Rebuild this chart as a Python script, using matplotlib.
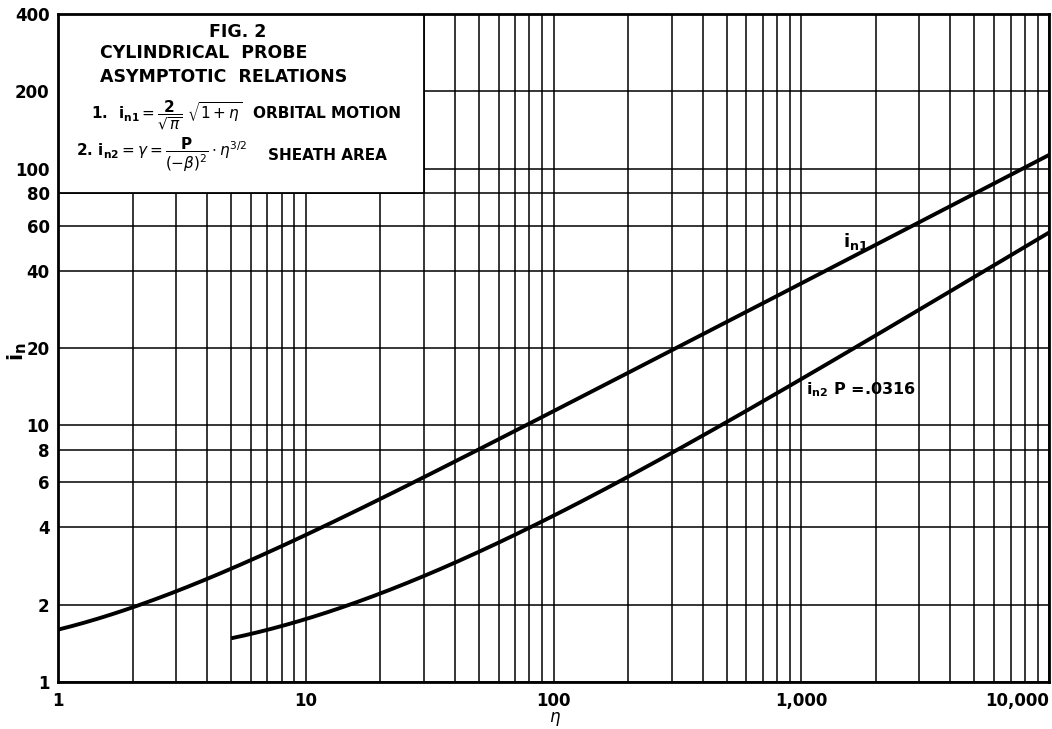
import matplotlib
matplotlib.use("Agg")
import matplotlib.pyplot as plt
import numpy as np
from matplotlib.patches import Rectangle
from matplotlib.ticker import FixedLocator, NullFormatter

# valores
eta_n1 = [1, 2, 3, 5, 10, 20, 30, 50, 80, 100, 200, 307, 500, 1000, 1216, 2000, 2910, 5000, 10000]
i_n1 = [1.6, 1.95, 2.26, 2.76, 3.74, 5.17, 6.28, 8.06, 10.2, 11.3, 16.0, 19.8, 25.3, 35.7, 39.4, 50.5, 60.9, 79.8, 113]

eta_n2 = [5, 7, 10, 14.8, 20, 30, 40, 50, 70, 100, 200, 300, 500, 1000, 2000, 5000, 10000]
i_n2 = [1.48, 1.6, 1.75, 2.0, 2.21, 2.57, 2.91, 3.24, 3.8, 4.4, 6.2, 7.8, 10.6, 15.0, 22.0, 38.5, 56]

x_ticks = [1, 10, 100, 1000, 10000]
x_labels = ['1', '10', '100', '1,000', '10,000']
y_ticks = [1, 2, 4, 6, 8, 10, 20, 40, 60, 80, 100, 200, 400]
x_grid = [m * 10 ** d for d in range(4) for m in range(2, 10)]


def suave(x, y, grau):
    # curva suave passando pelos pontos lidos (em escala log)
    lx, ly = np.log10(x), np.log10(y)
    c = np.polyfit(lx, ly, grau)
    xx = np.linspace(lx[0], lx[-1], 300)
    return 10 ** xx, 10 ** np.polyval(c, xx)


fig = plt.figure(figsize=(10.52, 7.29), dpi=100)
ax = fig.add_axes([58 / 1052, 47 / 729, 991 / 1052, 668 / 729])
ax.set_xscale('log')
ax.set_yscale('log')
ax.set_xlim(1, 10000)
ax.set_ylim(1, 400)

# grade
ax.xaxis.set_major_locator(FixedLocator(x_ticks))
ax.xaxis.set_minor_locator(FixedLocator(x_grid))
ax.xaxis.set_minor_formatter(NullFormatter())
ax.yaxis.set_major_locator(FixedLocator(y_ticks))
ax.yaxis.set_minor_locator(FixedLocator([]))
ax.yaxis.set_minor_formatter(NullFormatter())
ax.set_xticklabels(x_labels, fontsize=12, fontweight='bold')
ax.set_yticklabels([str(v) for v in y_ticks], fontsize=12, fontweight='bold')
ax.tick_params(axis='x', which='both', length=0, pad=7)
ax.tick_params(axis='y', which='both', length=0, pad=6)
ax.xaxis.get_majorticklabels()[-1].set_horizontalalignment('right')
ax.grid(True, which='both', color='black', lw=1.1)
ax.set_axisbelow(True)
for s in ax.spines.values():
    s.set_linewidth(2)

# caixa com as relacoes
ax.add_patch(Rectangle((1, 80), 29, 320, facecolor='white', edgecolor='black', lw=1.3, zorder=2))

x1, y1 = suave(eta_n1, i_n1, 5)
x2, y2 = suave(eta_n2, i_n2, 4)
ax.plot(x1, y1, color='black', lw=2.8, zorder=3, solid_capstyle='butt')
ax.plot(x2, y2, color='black', lw=2.8, zorder=3, solid_capstyle='butt')

fw = 'bold'
tf = fig.transFigure
ax.text(238 / 1052, 1 - 32 / 729, 'FIG. 2', transform=tf, ha='center', va='center', fontsize=12.5, fontweight=fw)
ax.text(100 / 1052, 1 - 53 / 729, 'CYLINDRICAL  PROBE', transform=tf, va='center', fontsize=12.5, fontweight=fw)
ax.text(100 / 1052, 1 - 77 / 729, 'ASYMPTOTIC  RELATIONS', transform=tf, va='center', fontsize=12.5, fontweight=fw)
ax.text(91 / 1052, 1 - 115 / 729, r'1.  $\mathbf{i_{n1}} = \dfrac{\mathbf{2}}{\sqrt{\pi}}\ \sqrt{1+\eta}$', transform=tf,
        va='center', fontsize=11, fontweight=fw)
ax.text(253 / 1052, 1 - 113 / 729, 'ORBITAL MOTION', transform=tf, va='center', fontsize=11, fontweight=fw)
ax.text(76 / 1052, 1 - 155 / 729, r'2. $\mathbf{i_{n2}} = \gamma = \dfrac{\mathbf{P}}{(-\beta)^2} \cdot \eta^{3/2}$', transform=tf,
        va='center', fontsize=11, fontweight=fw)
ax.text(268 / 1052, 1 - 155 / 729, 'SHEATH AREA', transform=tf, va='center', fontsize=11, fontweight=fw)

# rotulos das curvas
ax.text(843 / 1052, 1 - 241 / 729, r'$\mathbf{i_{n1}}$', transform=tf, fontsize=13, va='center', zorder=4)
ax.text(806 / 1052, 1 - 390 / 729, r'$\mathbf{i_{n2}}$ P =.0316', transform=tf, fontsize=11.5, fontweight=fw,
        va='center', zorder=4)

fig.text(555 / 1052, 1 - 719 / 729, r'$\eta$', ha='center', va='center', fontsize=12)
fig.text(17 / 1052, 1 - 352 / 729, r'$\mathbf{i_n}$', ha='center', va='center', fontsize=15, rotation=90)

fig.savefig('out.png', dpi=100)
